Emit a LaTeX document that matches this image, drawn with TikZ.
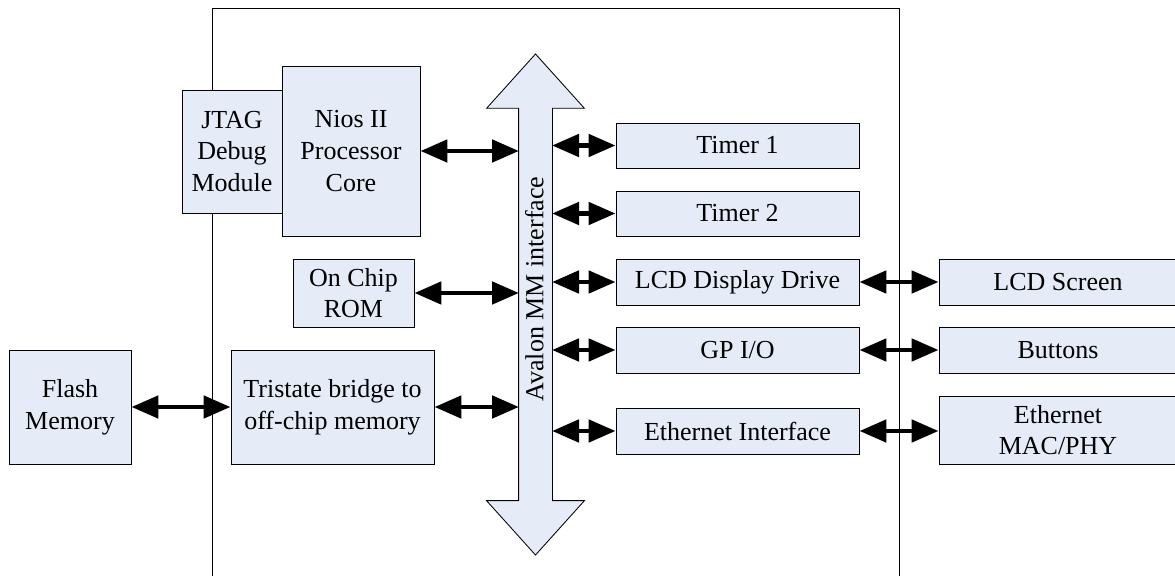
\documentclass[tikz,border=0pt]{standalone}
\usepackage{fontspec}
\setmainfont{Liberation Serif}
\usepackage{xcolor}
\usetikzlibrary{shapes.arrows}
\usetikzlibrary{arrows.meta}
\definecolor{boxblue}{RGB}{230,236,247}
\tikzstyle{block}=[draw, fill=boxblue, line width=0.6pt, inner sep=0pt, align=center, font=\fontsize{18.5}{22.5}\selectfont]
\tikzstyle{busLink}=[line width=3.5pt, {Triangle[length=6.75mm,width=5.5mm]}-{Triangle[length=6.75mm,width=5.5mm]}]

\begin{document}
\begin{tikzpicture}
  \useasboundingbox (0,0) rectangle (29.375,14.4);
  % FPGA chip outline (open at the bottom)
  \draw[line width=0.7pt] (5.3,-0.5) |- (22.475,14.2) -- (22.475,-0.5);

  % Nodes
  \node (jtag) at (5.8,10.6125) [block, minimum width=2.5cm, minimum height=3.075cm] {JTAG\\Debug\\Module};
  \node (nios) at (8.775,10.625) [block, minimum width=3.45cm, minimum height=4.25cm] {Nios II\\Processor\\Core};
  \node (rom) at (8.8375,7.075) [block, minimum width=3.025cm, minimum height=1.7cm] {On Chip\\ROM};
  \node (flash) at (1.75,4.225) [block, minimum width=3.05cm, minimum height=2.85cm] {Flash\\Memory};
  \node (bridge) at (8.3125,4.225) [block, minimum width=5.075cm, minimum height=2.85cm] {Tristate bridge to\\off-chip memory};

  \node (bus) at (13.3875,6.7875) [double arrow, draw, fill=boxblue, line width=0.6pt, rotate=90, inner sep=0pt, inner ysep=4.125mm, outer sep=0pt, double arrow head extend=8mm, double arrow tip angle=84, minimum height=12.525cm] {};
  \node (bustext) at (13.36,7.175) [rotate=90, font=\fontsize{18.5}{22}\selectfont] {Avalon MM interface};
  \coordinate (busW) at ([xshift=-4.125mm]bus.center);
  \coordinate (busE) at ([xshift=4.125mm]bus.center);

  \node (timer1) at (18.4375,10.7625) [block, minimum width=6.075cm, minimum height=1.125cm] {Timer 1};
  \node (timer2) at (18.4375,9.0625) [block, minimum width=6.075cm, minimum height=1.125cm] {Timer 2};
  \node (lcddrv) at (18.4375,7.35) [block, minimum width=6.075cm, minimum height=1.15cm] {LCD Display Drive};
  \node (gpio) at (18.4375,5.65) [block, minimum width=6.075cm, minimum height=1.15cm] {GP I/O};
  \node (ethif) at (18.4375,3.625) [block, minimum width=6.075cm, minimum height=1.15cm] {Ethernet Interface};

  \node (lcdscr) at (26.45,7.35) [block, minimum width=5.95cm, minimum height=1.15cm] {LCD Screen};
  \node (buttons) at (26.45,5.65) [block, minimum width=5.95cm, minimum height=1.15cm] {Buttons};
  \node (macphy) at (26.45,3.65) [block, minimum width=5.95cm, minimum height=1.7cm] {Ethernet\\MAC/PHY};

  % Bus links
  \draw[busLink] (nios.east) -- (nios.east -| busW);
  \draw[busLink] (rom.east) -- (rom.east -| busW);
  \draw[busLink] (bridge.east) -- (bridge.east -| busW);
  \draw[busLink] (flash.east) -- (bridge.west);
  \foreach \blk in {timer1,timer2,lcddrv,gpio,ethif}
    \draw[busLink] (\blk.west -| busE) -- (\blk.west);
  \draw[busLink] (lcddrv.east) -- (lcdscr.west);
  \draw[busLink] (gpio.east) -- (buttons.west);
  \draw[busLink] (ethif.east) -- (ethif.east -| macphy.west);

\end{tikzpicture}
\end{document}
